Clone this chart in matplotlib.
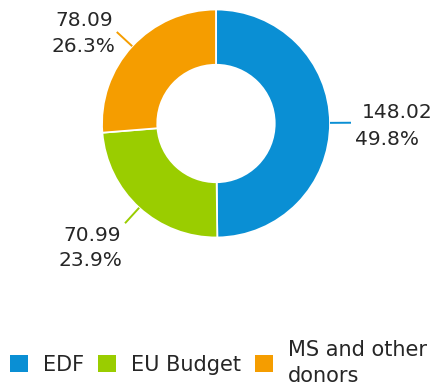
import numpy as np
import matplotlib
matplotlib.use("Agg")
import matplotlib.pyplot as plt
from matplotlib.patches import Patch

# Funding sources (EUR million)
categories = ["EDF", "EU Budget", "MS and other\ndonors"]
values = [148.02, 70.99, 78.09]
colors = ["#0a8fd4", "#9acd00", "#f59d00"]

W, H = 435, 387
fig = plt.figure(figsize=(W / 100, H / 100), dpi=100)
ax = fig.add_axes([0, 0, 1, 1])

# work in pixel units, y measured from the top
def py(y):
    return H - y

cx, cy, R = 216, py(123.5), 114
ax.pie(values, colors=colors, startangle=90, counterclock=False,
       radius=R, center=(cx, cy),
       wedgeprops=dict(width=R * 0.485, edgecolor="white", linewidth=1.3))
ax.set_xlim(0, W)
ax.set_ylim(0, H)
ax.set_aspect("equal")
ax.axis("off")

total = sum(values)
pcts = [v / total * 100 for v in values]

# label layout: (first line x, y, second line x, y, alignment) in pixels
label_layout = [
    (362, 112.5, 355, 139.5, "left"),
    (121, 235.5, 122, 260.0, "right"),
    (113, 20.5, 115, 46.5, "right"),
]

txt_color = "#262626"
start = 90.0
for v, p, c, lay in zip(values, pcts, colors, label_layout):
    sweep = p / 100 * 360
    mid = np.deg2rad(start - sweep / 2)
    start -= sweep
    x0, y0 = cx + R * np.cos(mid), cy + R * np.sin(mid)
    L = 21
    x1, y1 = cx + (R + L) * np.cos(mid), cy + (R + L) * np.sin(mid)
    ax.plot([x0, x1], [y0, y1], color=c, lw=1.4, solid_capstyle="butt")
    x_a, y_a, x_b, y_b, ha = lay
    ax.text(x_a, py(y_a), f"{v:.2f}", ha=ha, va="center",
            fontsize=14.5, color=txt_color, family="DejaVu Sans")
    ax.text(x_b, py(y_b), f"{p:.1f}%", ha=ha, va="center",
            fontsize=14.5, color=txt_color, family="DejaVu Sans")

handles = [Patch(facecolor=c, edgecolor="none") for c in colors]
leg = fig.legend(handles, categories, ncol=3, frameon=False,
                 loc="center left", bbox_to_anchor=(10 / W, 1 - 363 / H),
                 borderaxespad=0, borderpad=0, fontsize=15,
                 handlelength=0.87, handleheight=0.87, handletextpad=0.72,
                 columnspacing=0.66, labelspacing=0.3,
                 labelcolor=txt_color)
for t in leg.get_texts():
    t.set_linespacing(1.35)

fig.savefig("out.png", dpi=100, facecolor="white")
